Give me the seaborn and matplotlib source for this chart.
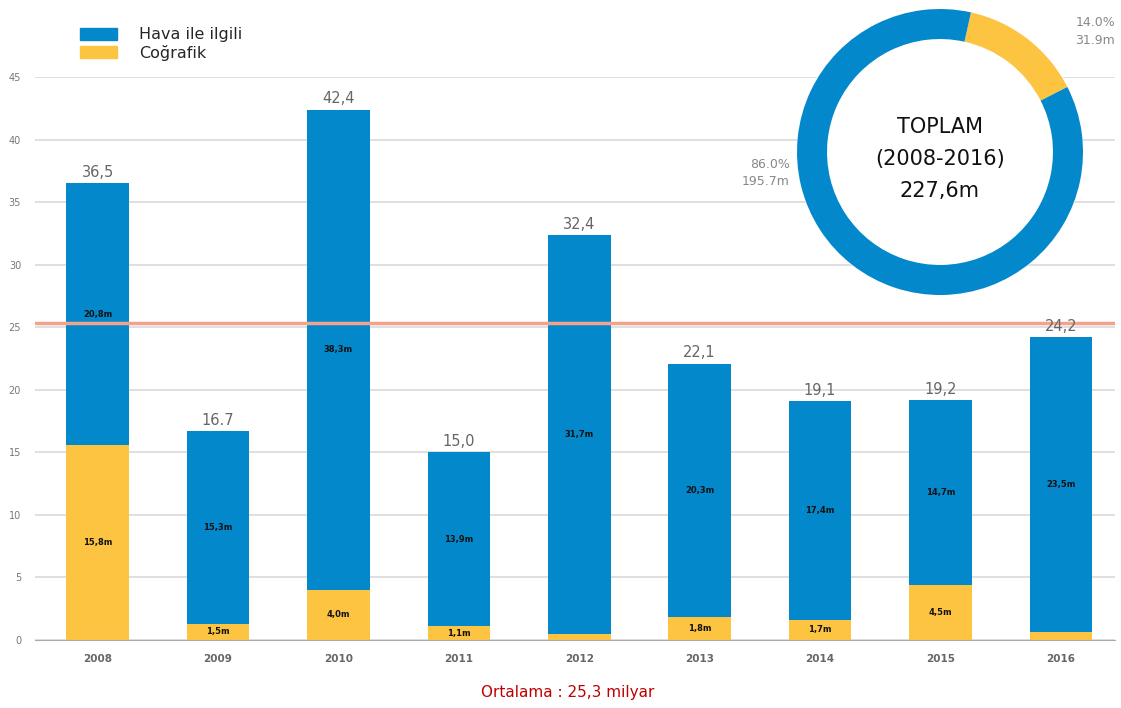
import pandas as pd
import matplotlib.pyplot as plt
import seaborn as sns
from matplotlib.patches import Patch, Circle

# -----------------------
# Data
# -----------------------

years = ["2008", "2009", "2010", "2011", "2012", "2013", "2014", "2015", "2016"]
totals = [36.5, 16.7, 42.4, 15.0, 32.4, 22.1, 19.1, 19.2, 24.2]
geo = [15.6, 1.3, 4.0, 1.1, 0.5, 1.8, 1.6, 4.4, 0.6]
total_labels = ["36,5", "16.7", "42,4", "15,0", "32,4", "22,1", "19,1", "19,2", "24,2"]
weather_labels = ["20,8m", "15,3m", "38,3m", "13,9m", "31,7m", "20,3m", "17,4m", "14,7m", "23,5m"]
geo_labels = ["15,8m", "1,5m", "4,0m", "1,1m", "", "1,8m", "1,7m", "4,5m", ""]
average = 25.3

donut_names = ["Coğrafik", "Hava ile ilgili"]
donut_values = [31.9, 195.7]
donut_labels = ["14.0%\n31.9m", "86.0%\n195.7m"]

BLUE = "#0288cb"
YELLOW = "#fcc440"

df = pd.DataFrame({"year": years, "total": totals, "geo": geo})

sns.set_style("white")
plt.rcParams["font.family"] = ["DejaVu Sans"]

fig = plt.figure(figsize=(11.21, 7.08), dpi=100)
ax = fig.add_axes([35 / 1121, 68 / 708, 1080 / 1121, 563 / 708])

# -----------------------
# Bars
# -----------------------

sns.barplot(data=df, x="year", y="total", color=BLUE, width=0.52,
            saturation=1, linewidth=0, ax=ax, zorder=3)
sns.barplot(data=df, x="year", y="geo", color=YELLOW, width=0.52,
            saturation=1, linewidth=0, ax=ax, zorder=3)

for i in range(len(years)):
    ax.text(i, totals[i] + 0.25, total_labels[i], ha="center", va="bottom",
            fontsize=10.5, color="#666666", zorder=5)
    ax.text(i, (geo[i] + totals[i]) / 2, weather_labels[i], ha="center",
            va="center", fontsize=6, fontweight="bold", color="#111111", zorder=5)
    if geo_labels[i]:
        ax.text(i, geo[i] / 2, geo_labels[i], ha="center", va="center",
                fontsize=6, fontweight="bold", color="#111111", zorder=5)

ax.axhline(average, color="#f4a28c", lw=2.5, zorder=4)

ax.set_ylim(0, 45)
ax.set_xlim(-0.52, 8.45)
ax.set_yticks(range(0, 46, 5))
ax.yaxis.grid(True, color="#dcdcdc", lw=1.3, zorder=0)
ax.set_xlabel("")
ax.set_ylabel("")
ax.tick_params(axis="y", labelsize=7, colors="#777777", length=0, pad=10)
ax.tick_params(axis="x", labelsize=7.5, colors="#666666", length=0, pad=10)
for lbl in ax.get_xticklabels():
    lbl.set_fontweight("bold")
sns.despine(ax=ax, left=True)
ax.spines["bottom"].set_color("#aaaaaa")
ax.spines["bottom"].set_zorder(6)

fig.text(568 / 1121, 16 / 708, "Ortalama : 25,3 milyar", ha="center",
         va="center", fontsize=11, color="#c00000")

# -----------------------
# Legend
# -----------------------

handles = [Patch(color=BLUE, label="Hava ile ilgili"),
           Patch(color=YELLOW, label="Coğrafik")]
fig.legend(handles=handles, loc="upper left", bbox_to_anchor=(66 / 1121, 1 - 13 / 708),
           frameon=False, fontsize=11.5, handlelength=2.3, handleheight=0.8,
           handletextpad=1.4, labelspacing=0.15)

# -----------------------
# Donut
# -----------------------

dax = fig.add_axes([797 / 1121, 1 - 295 / 708, 286 / 1121, 286 / 708])
dax.add_patch(Circle((0, 0), 1.0, color="white", zorder=0))
dax.pie(donut_values, colors=[YELLOW, BLUE], startangle=77.5, counterclock=False,
        wedgeprops=dict(width=0.21, edgecolor="none", linewidth=0))
dax.set_xlim(-1, 1)
dax.set_ylim(-1, 1)
dax.set_aspect("equal")
dax.axis("off")
dax.text(0, -0.05, "TOPLAM\n(2008-2016)\n227,6m", ha="center", va="center",
         fontsize=15, color="#111111", linespacing=1.75)

fig.text(1115 / 1121, 1 - 32 / 708, donut_labels[0], ha="right", va="center",
         fontsize=9, color="#888888", linespacing=1.5)
fig.text(790 / 1121, 1 - 173 / 708, donut_labels[1], ha="right", va="center",
         fontsize=9, color="#888888", linespacing=1.4)

plt.savefig("out.png", dpi=100)
plt.close()
